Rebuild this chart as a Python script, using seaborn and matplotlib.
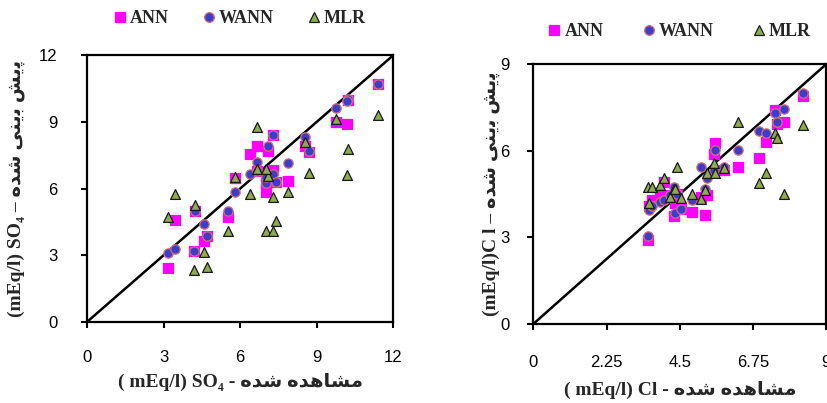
import numpy as np
import pandas as pd
import seaborn as sns
import matplotlib
matplotlib.use("Agg")
import matplotlib.pyplot as plt
from matplotlib.lines import Line2D

# ---------------- data ----------------
series_names = ["ANN", "WANN", "MLR"]

so4_obs = [3.16, 3.46, 4.18, 4.22, 4.58, 4.72, 5.53, 5.78, 6.40, 6.68, 6.68, 7.08,
           7.29, 7.03, 7.29, 7.40, 7.03, 7.86, 8.56, 8.71, 9.75, 10.24, 10.17, 11.39]
so4_ann = [2.43, 4.60, 3.19, 4.98, 3.63, 3.87, 4.73, 6.48, 7.56, 7.90, 6.80, 7.70,
           8.40, 5.85, 6.83, 6.30, 6.23, 6.33, 7.90, 7.65, 9.00, 10.00, 8.90, 10.71]
so4_wann = [3.10, 3.30, 3.19, 5.00, 4.43, 3.87, 4.98, 5.85, 6.65, 7.20, 6.80, 7.92,
            8.40, 6.23, 6.65, 6.30, 6.50, 7.17, 8.30, 7.71, 9.63, 10.04, 9.95, 10.71]
so4_mlr = [4.73, 5.75, 2.36, 5.27, 3.14, 2.48, 4.10, 6.53, 5.75, 8.75, 6.86, 6.56,
           5.63, 4.10, 4.10, 4.53, 6.86, 5.84, 8.10, 6.72, 9.14, 7.80, 6.60, 9.33]

cl_obs = [3.53, 3.55, 3.66, 3.88, 4.02, 4.20, 4.33, 4.36, 4.41, 4.53, 4.87, 5.16,
          5.27, 5.35, 5.55, 5.59, 5.87, 6.29, 6.92, 7.16, 7.42, 7.49, 7.70, 8.28]
cl_ann = [2.91, 4.07, 4.30, 4.45, 4.90, 4.45, 3.73, 4.19, 4.50, 3.97, 3.89, 4.40,
          3.78, 4.47, 5.89, 6.28, 5.34, 5.45, 5.74, 6.31, 7.42, 6.92, 7.01, 7.91]
cl_wann = [3.05, 3.95, 4.07, 4.24, 4.30, 4.45, 4.76, 3.86, 4.50, 3.97, 4.30, 5.45,
           4.69, 5.05, 5.34, 6.03, 5.43, 6.03, 6.70, 6.63, 7.30, 7.00, 7.46, 7.99]
cl_mlr = [4.74, 4.20, 4.74, 4.82, 5.05, 4.40, 4.69, 4.69, 5.45, 4.35, 4.50, 4.32,
          4.64, 5.24, 5.57, 5.22, 5.39, 7.01, 4.88, 5.24, 6.60, 6.43, 4.49, 6.89]

so4_ticks = [0, 3, 6, 9, 12]
cl_ticks = [0, 2.25, 4.5, 6.75, 9]
cl_tick_labels = ["0", "2.25", "4.5", "6.75", "9"]
cl_yticks = [0, 3, 6, 9]

# Persian words as contextual presentation forms (logical order), shown in visual order
predicted_forms = ["\uFB58", "\uFBFE", "\uFEB6", " ", "\uFE91", "\uFBFE", "\uFEE8", "\uFBFD",
                   " ", "\uFEB7", "\uFEAA", "\uFEE9"]          # پیش بینی شده
observed_forms = ["\uFEE3", "\uFEB8", "\uFE8E", "\uFEEB", "\uFEAA", "\uFEE9", " ",
                  "\uFEB7", "\uFEAA", "\uFEE9"]                 # مشاهده شده
predicted_fa = "".join(reversed(predicted_forms))
observed_fa = "".join(reversed(observed_forms))

# ---------------- style ----------------
sns.set_theme(style="white")
plt.rcParams["font.family"] = ["Liberation Serif", "DejaVu Sans"]

colors = {"ANN": "#FF00FF", "WANN": "#3D3DC8", "MLR": "#8FAA50"}
markers = {"ANN": "s", "WANN": "o", "MLR": "^"}
edges = {"ANN": "#FF00FF", "WANN": "#D0707A", "MLR": "#1A1A1A"}
sizes = {"ANN": 42, "WANN": 45, "MLR": 50}

tick_font = ["Liberation Sans Narrow", "Liberation Sans", "DejaVu Sans"]
label_font = ["Liberation Serif", "DejaVu Sans"]

fig = plt.figure(figsize=(8.28, 4.03), dpi=100)
ax1 = fig.add_axes([0.105, 0.201, 0.370, 0.662])
ax2 = fig.add_axes([0.644, 0.196, 0.354, 0.645])


def draw(ax, obs, ys, lim, leg_y, xpad, ypad, colsp):
    frames = []
    for name, y in zip(series_names, ys):
        frames.append(pd.DataFrame({"obs": obs, "pred": y, "model": name}))
    df = pd.concat(frames, ignore_index=True)
    ax.plot([0, lim], [0, lim], color="black", lw=1.8, zorder=1)
    for name in series_names:
        sub = df[df["model"] == name]
        sns.scatterplot(data=sub, x="obs", y="pred", ax=ax, marker=markers[name],
                        color=colors[name], edgecolor=edges[name], linewidth=0.9,
                        s=sizes[name], zorder=3, legend=False)
    ax.set_xlim(0, lim)
    ax.set_ylim(0, lim)
    for sp in ax.spines.values():
        sp.set_visible(True)
        sp.set_color("black")
        sp.set_linewidth(1.6)
    ax.tick_params(direction="out", length=4, width=1.5, colors="black",
                   bottom=True, left=True)
    ax.tick_params(axis="x", pad=xpad)
    ax.tick_params(axis="y", pad=ypad)
    handles = [Line2D([0], [0], marker=markers[n], color="none", markerfacecolor=colors[n],
                      markeredgecolor=edges[n], markersize=7, markeredgewidth=0.9)
               for n in series_names]
    ax.legend(handles, series_names, loc="lower center", bbox_to_anchor=(0.5, leg_y),
              ncol=3, frameon=False, handlelength=0.6, handletextpad=0.25,
              columnspacing=colsp, prop={"family": label_font, "weight": "bold", "size": 13})
    ax.set_xlabel("")
    ax.set_ylabel("")


draw(ax1, so4_obs, [so4_ann, so4_wann, so4_mlr], 12, 1.045, 16, 17, 1.9)
ax1.set_xticks(so4_ticks)
ax1.set_yticks(so4_ticks)
ax1.set_xticklabels([str(t) for t in so4_ticks], family=tick_font, fontsize=12)
ax1.set_yticklabels([str(t) for t in so4_ticks], family=tick_font, fontsize=12)

draw(ax2, cl_obs, [cl_ann, cl_wann, cl_mlr], 9, 1.03, 18, 13, 2.2)
ax2.set_xticks(cl_ticks)
ax2.set_yticks(cl_yticks)
ax2.set_xticklabels(cl_tick_labels, family=tick_font, fontsize=12)
ax2.set_yticklabels([str(t) for t in cl_yticks], family=tick_font, fontsize=12)

lab_kw = dict(family=label_font, fontsize=14, weight="bold")
ax1.set_xlabel("( mEq/l) SO\u2084 - " + observed_fa, labelpad=6, **lab_kw)
ax1.set_ylabel("(mEq/l) SO\u2084 \u2013 " + predicted_fa, labelpad=10, **lab_kw)
ax2.set_xlabel("( mEq/l) Cl - " + observed_fa, labelpad=8, **lab_kw)
ax2.set_ylabel("(mEq/l)C l \u2013 " + predicted_fa, labelpad=0, **lab_kw)

fig.savefig("out.png", dpi=100)
